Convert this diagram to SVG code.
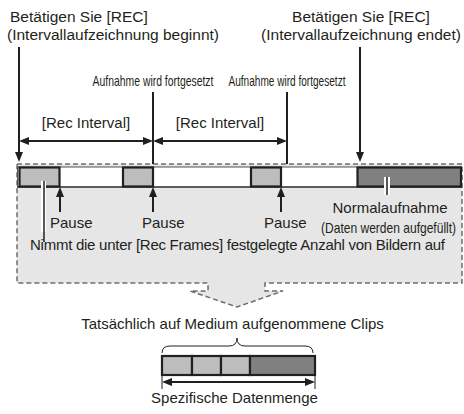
<svg xmlns="http://www.w3.org/2000/svg" width="464" height="414" viewBox="0 0 464 414">
<defs>
<style>
text{font-family:"Liberation Sans",Arial,sans-serif;fill:#231f20}
.t15{font-size:15px}
.t155{font-size:15.5px}
.nar{font-size:14px}
.ln{stroke:#231f20;stroke-width:2;fill:none}
.lt{stroke:#231f20;stroke-width:1;fill:none}
.box{fill:#bcbdbf;stroke:#231f20;stroke-width:2.2}
.dbox{fill:#808080;stroke:#231f20;stroke-width:2.2}
</style>
<marker id="ah" viewBox="0 0 10 8" refX="7" refY="4" markerWidth="10" markerHeight="8" orient="auto-start-reverse" markerUnits="userSpaceOnUse"><path d="M0,0 L10,4 L0,8 z" fill="#231f20"/></marker>
</defs>
<rect width="464" height="414" fill="#ffffff"/>
<g id="region">
<path d="M17,164 H462 V283 H265 V291 H283 L237,307 L190,291 H208 V283 H17 Z" fill="#e6e6e6" stroke="#6d6d6d" stroke-width="1.5" stroke-dasharray="5 3"/>
<rect x="17.5" y="167" width="444" height="20" fill="#ffffff" stroke="#555" stroke-width="1"/>
<line x1="17" y1="187" x2="462" y2="187" stroke="#444" stroke-width="1.5"/>
</g>
<g id="rec-start"><text class="t155" x="10" y="22">Betätigen Sie [REC]</text><text class="t155" x="7" y="40">(Intervallaufzeichnung beginnt)</text></g>
<g id="rec-end"><text class="t155" x="361" y="22" text-anchor="middle">Betätigen Sie [REC]</text><text class="t155" x="361" y="40" text-anchor="middle">(Intervallaufzeichnung endet)</text></g>
<g id="resume1"><text class="nar" transform="translate(153,86) scale(0.744,1)" text-anchor="middle">Aufnahme wird fortgesetzt</text></g>
<g id="resume2"><text class="nar" transform="translate(287,86) scale(0.72,1)" text-anchor="middle">Aufnahme wird fortgesetzt</text></g>
<g id="interval1"><text class="t15" x="86" y="128" text-anchor="middle">[Rec Interval]</text></g>
<g id="interval2"><text class="t15" x="220" y="128" text-anchor="middle">[Rec Interval]</text></g>
<g id="frame1"><rect class="box" x="19.5" y="167.5" width="40" height="19"/></g>
<g id="frame2"><rect class="box" x="123" y="167.5" width="30" height="19"/></g>
<g id="frame3"><rect class="box" x="251" y="167.5" width="30" height="19"/></g>
<g id="normal"><rect class="dbox" x="357.5" y="167.5" width="103.5" height="19"/></g>
<g id="pause1"><text class="t15" x="50" y="228">Pause</text></g>
<g id="pause2"><text class="t15" x="142" y="228">Pause</text></g>
<g id="pause3"><text class="t15" x="264" y="228">Pause</text></g>
<g id="normal-label"><text class="t15" x="390" y="213" text-anchor="middle">Normalaufnahme</text><text class="nar" transform="translate(321,233) scale(0.86,1)">(Daten werden aufgefüllt)</text></g>
<g id="frames-label"><text class="t15" x="30" y="250" textLength="415">Nimmt die unter [Rec Frames] festgelegte Anzahl von Bildern auf</text></g>
<g id="clips-label"><text class="t15" x="232.5" y="329" text-anchor="middle">Tatsächlich auf Medium aufgenommene Clips</text></g>
<g id="clips">
<rect class="box" x="162" y="356" width="30" height="19"/>
<rect class="box" x="192" y="356" width="29" height="19"/>
<rect class="box" x="221" y="356" width="29" height="19"/>
<rect class="dbox" x="250" y="356" width="65" height="19"/>
</g>
<g id="size-label"><text class="t15" x="234.5" y="403" text-anchor="middle">Spezifische Datenmenge</text></g>
<g id="connectors">
<path class="ln" d="M19,47 V159" marker-end="url(#ah)"/>
<path class="ln" d="M360,47 V159" marker-end="url(#ah)"/>
<path class="ln" d="M153,92 V164"/>
<path class="ln" d="M287,92 V164"/>
<path class="ln" d="M22,141 H150" marker-start="url(#ah)" marker-end="url(#ah)"/>
<path class="ln" d="M156,141 H284" marker-start="url(#ah)" marker-end="url(#ah)"/>
<path class="ln" d="M60,212 V190" marker-end="url(#ah)"/>
<path class="ln" d="M153,212 V190" marker-end="url(#ah)"/>
<path class="ln" d="M281,212 V190" marker-end="url(#ah)"/>
<line x1="43.5" y1="181" x2="43.5" y2="232" stroke="#ffffff" stroke-width="5"/>
<line x1="44" y1="181" x2="44" y2="242" stroke="#231f20" stroke-width="1.5"/>
<line x1="387" y1="177" x2="387" y2="195" stroke="#ffffff" stroke-width="6"/>
<line x1="387" y1="177" x2="387" y2="195" stroke="#231f20" stroke-width="1.5"/>
<path class="lt" stroke-width="1.5" d="M162,353 Q162,346 170,346 H229 Q237,346 237,338 Q237,346 245,346 H305 Q313,346 313,353"/>
<path class="ln" d="M165,382 H312" marker-start="url(#ah)" marker-end="url(#ah)"/>
<path class="lt" d="M162,376 V389 M315,376 V389"/>
</g>
</svg>
